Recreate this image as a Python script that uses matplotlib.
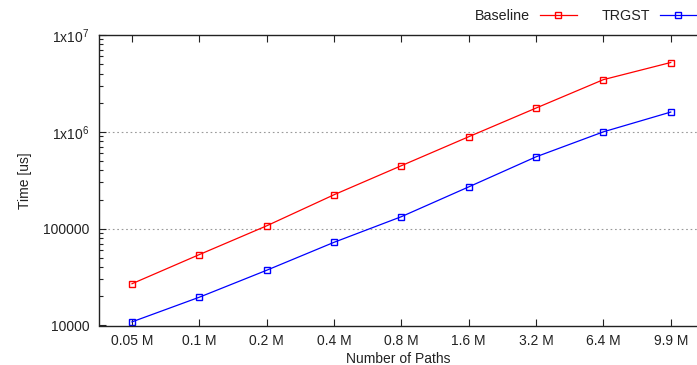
import matplotlib
matplotlib.use("Agg")
import matplotlib.pyplot as plt
from matplotlib.ticker import FixedLocator, FuncFormatter, LogLocator, NullFormatter
import numpy as np

categories = ["0.05 M", "0.1 M", "0.2 M", "0.4 M", "0.8 M", "1.6 M", "3.2 M", "6.4 M", "9.9 M"]
baseline = [27000, 54000, 107000, 224000, 447000, 890000, 1760000, 3460000, 5200000]
trgst = [10900, 19600, 37200, 72300, 133000, 270000, 552000, 1000000, 1600000]

plt.rcParams['font.family'] = ['Liberation Sans', 'DejaVu Sans']
plt.rcParams['mathtext.fontset'] = 'custom'
plt.rcParams['mathtext.rm'] = 'Liberation Sans'
plt.rcParams['mathtext.it'] = 'Liberation Sans'
plt.rcParams['font.size'] = 10

W, H = 697, 365
fig = plt.figure(figsize=(W/100, H/100), dpi=100)
left, right, top, bottom = 99, 697, 35, 325.5
ax = fig.add_axes([left/W, (H-bottom)/H, (right-left)/W, (bottom-top)/H])

x = np.arange(len(categories))
ax.plot(x, baseline, color='#ff0000', lw=0.9, marker='s', ms=5, mfc='none', mew=1.0, label='Baseline')
ax.plot(x, trgst, color='#0000ff', lw=0.9, marker='s', ms=5, mfc='none', mew=1.0, label='TRGST')

ax.set_yscale('log')
ax.set_ylim(1e4, 1e7)
ax.set_xlim(-0.49, 8.39)
ax.set_xticks(x)
ax.set_xticklabels(categories, color='#222222')

def fmt(v, pos):
    e = int(round(np.log10(v)))
    if e >= 6:
        return r'1x10$^{%d}$' % e
    return '%d' % int(round(v))

ax.yaxis.set_major_locator(FixedLocator([1e4, 1e5, 1e6, 1e7]))
ax.yaxis.set_major_formatter(FuncFormatter(fmt))
ax.yaxis.set_minor_locator(LogLocator(base=10, subs=np.arange(2, 10)))
ax.yaxis.set_minor_formatter(NullFormatter())

ax.tick_params(axis='both', which='major', direction='in', length=5, width=0.8, colors='#222222', labelcolor='#222222')
ax.tick_params(axis='y', which='minor', direction='in', length=3, width=0.8, colors='#222222')
ax.tick_params(axis='x', which='both', top=True, bottom=True)
ax.tick_params(axis='y', which='both', right=False)
ax.tick_params(axis='y', labelsize=10, pad=7)
ax.tick_params(axis='x', labelsize=10, pad=6)

for y in [1e5, 1e6]:
    ax.axhline(y, color='#999999', lw=0.8, ls=(0, (1.5, 2.5)), zorder=0)

ax.spines['right'].set_visible(False)
for s in ['left', 'top', 'bottom']:
    ax.spines[s].set_linewidth(1.0)
    ax.spines[s].set_color('#222222')

ax.set_xlabel('Number of Paths', color='#222222', labelpad=3)
ax.set_ylabel('Time [us]', color='#222222', labelpad=8)

leg = fig.legend(loc='upper right', bbox_to_anchor=(1.0, 0.974), ncol=2, markerfirst=False,
                 frameon=False, handlelength=2.6, handletextpad=0.7, columnspacing=1.7,
                 borderaxespad=0.0, borderpad=0.0, fontsize=10.3)
for t in leg.get_texts():
    t.set_color('#222222')

fig.savefig('out.png', dpi=100)
